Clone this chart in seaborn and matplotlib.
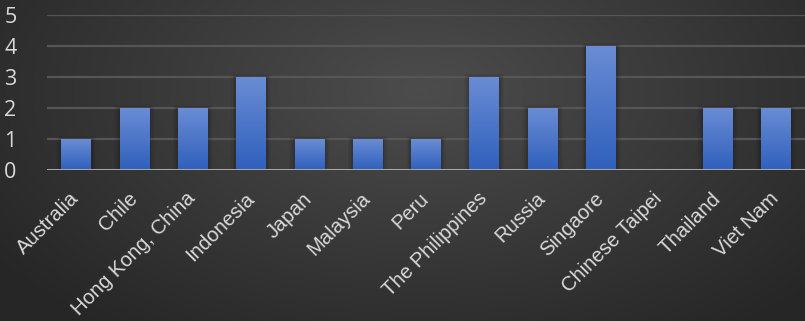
import numpy as np
import pandas as pd
import matplotlib
matplotlib.use("Agg")
import matplotlib.pyplot as plt
import seaborn as sns

economies = ["Australia", "Chile", "Hong Kong, China", "Indonesia", "Japan", "Malaysia",
             "Peru", "The Philippines", "Russia", "Singaore", "Chinese Taipei", "Thailand", "Viet Nam"]
counts = [1, 2, 2, 3, 1, 1, 1, 3, 2, 4, 0, 2, 2]
y_ticks = [0, 1, 2, 3, 4, 5]

df = pd.DataFrame({"economy": economies, "count": counts})

sns.set_theme(style="dark")
plt.rcParams['font.family'] = ['Liberation Sans', 'DejaVu Sans']

W, H = 805, 321
fig = plt.figure(figsize=(W / 100, H / 100), dpi=100)

# radial gradient background
bg = fig.add_axes([0, 0, 1, 1], zorder=-10)
yy, xx = np.mgrid[0:H, 0:W]
d = np.sqrt(((xx - 420) / 520.0) ** 2 + ((yy - 90) / 300.0) ** 2)
d = np.clip(d, 0, 1)
val = 0.30 - 0.15 * d
img = np.dstack([val, val, val])
bg.imshow(img, extent=[0, 1, 0, 1], aspect="auto", origin="upper")
bg.set_axis_off()

left = 47 / W
right = 805 / W
bottom = (H - 170) / H
top = (H - 15) / H
ax = fig.add_axes([left, bottom, right - left, top - bottom])
ax.patch.set_alpha(0)

sns.barplot(data=df, x="economy", y="count", ax=ax, color="#4472c4", width=0.51,
            saturation=1, zorder=3)

ax.set_ylim(0, 5)
ax.set_xlim(-0.5, len(economies) - 0.5)
ax.set_yticks(y_ticks)
ax.set_yticklabels([str(t) for t in y_ticks], fontsize=15.5, color="#d9d9d9",
                   family=["Open Sans", "DejaVu Sans"])
ax.tick_params(axis="y", length=0, pad=22)
ax.tick_params(axis="x", length=0, pad=14)
ax.set_xticks(range(len(economies)))
ax.set_xticklabels(economies, rotation=45, ha="right", va="center", rotation_mode="anchor",
                   fontsize=14.6, color="#d9d9d9")
ax.set_xlabel("")
ax.set_ylabel("")
for s in ax.spines.values():
    s.set_visible(False)
ax.grid(False)
for t in y_ticks[1:]:
    ax.axhline(t, color="#565656", lw=1.6, zorder=1)
ax.axhline(0, color="#a6a6a6", lw=2.2, zorder=5)

# gradient fill for bars
grad = np.linspace(0, 1, 256).reshape(-1, 1)
top_c = np.array([0x6a, 0x8c, 0xd4]) / 255
bot_c = np.array([0x2f, 0x60, 0xbc]) / 255
gimg = (top_c[None, None, :] * (1 - grad[..., None]) + bot_c[None, None, :] * grad[..., None])
for p in list(ax.patches):
    x0, y0 = p.get_x(), p.get_y()
    w, h = p.get_width(), p.get_height()
    if h <= 0:
        continue
    # shadow
    for k, a in enumerate([0.10, 0.07, 0.04]):
        off = 0.03 * (k + 1)
        ax.add_patch(plt.Rectangle((x0 - off, y0), w + 2 * off, h + off * 1.2,
                                   color="black", alpha=a, zorder=2, lw=0))
    im = ax.imshow(gimg, extent=[x0, x0 + w, y0, y0 + h], aspect="auto",
                   origin="upper", zorder=4)
    im.set_clip_path(p)
    p.set_facecolor("none")
    p.set_edgecolor("none")
ax.set_xlim(-0.5, len(economies) - 0.5)
ax.set_ylim(0, 5)

# fine-tune label offset so the top-right of labels sits ~20px below the axis line
fig.canvas.draw()
r = fig.canvas.get_renderer()
lab = ax.get_xticklabels()[2]
bb = lab.get_window_extent(r)
target_top = H - 189  # display coords (origin bottom)
shift_px = bb.y1 - target_top
ax.tick_params(axis="x", pad=14 + shift_px * 72 / 100)

fig.savefig("out.png", dpi=100)
